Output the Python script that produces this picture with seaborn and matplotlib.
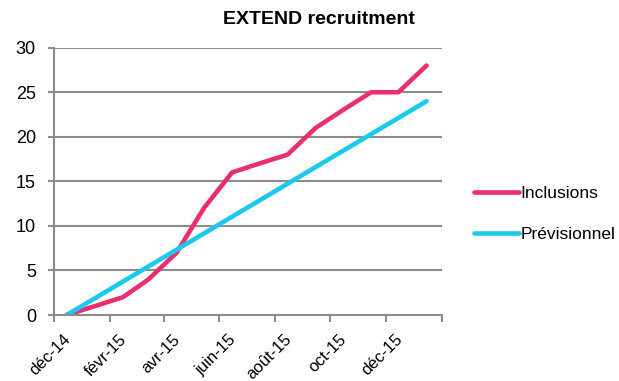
import pandas as pd
import matplotlib
matplotlib.use('Agg')
import matplotlib.pyplot as plt
import matplotlib.transforms as mtransforms
import seaborn as sns

# --- Data ---
incl_dates = ['2014-12-15', '2015-01-15', '2015-02-15', '2015-03-15', '2015-04-15',
              '2015-05-15', '2015-06-15', '2015-07-15', '2015-08-15', '2015-09-15',
              '2015-10-15', '2015-11-15', '2015-12-15', '2016-01-15']
incl_values = [0, 1, 2, 4, 7, 12, 16, 17, 18, 21, 23, 25, 25, 28]

prev_dates = ['2014-12-15', '2016-01-15']
prev_values = [0, 24]

tick_dates = ['2014-12-01', '2015-02-01', '2015-04-01', '2015-06-01',
              '2015-08-01', '2015-10-01', '2015-12-01', '2016-02-01']
tick_labels = ['déc-14', 'févr-15', 'avr-15', 'juin-15', 'août-15', 'oct-15', 'déc-15', '']

series_names = ['Inclusions', 'Prévisionnel']
series_colors = ['#E8306E', '#1CC8EC']

df = pd.concat([
    pd.DataFrame({'date': pd.to_datetime(incl_dates), 'value': incl_values, 'serie': series_names[0]}),
    pd.DataFrame({'date': pd.to_datetime(prev_dates), 'value': prev_values, 'serie': series_names[1]}),
])

sns.set_theme(style="white")
plt.rcParams['font.family'] = ['Liberation Sans', 'DejaVu Sans']
plt.rcParams['text.color'] = 'black'
plt.rcParams['xtick.color'] = 'black'
plt.rcParams['ytick.color'] = 'black'

fig = plt.figure(figsize=(6.19, 3.81), dpi=100)
ax = fig.add_axes([54 / 619, 1 - 315 / 381, (442 - 54) / 619, (315 - 47.7) / 381])

sns.lineplot(data=df, x='date', y='value', hue='serie', palette=dict(zip(series_names, series_colors)),
             linewidth=3.3, ax=ax, legend=False)

ax.set_xlim(pd.Timestamp(tick_dates[0]), pd.Timestamp(tick_dates[-1]))
ax.set_ylim(0, 30)
ax.set_yticks(range(0, 31, 5))
ax.set_xticks(pd.to_datetime(tick_dates))
ax.set_xticklabels([])
ax.tick_params(axis='y', labelsize=13, length=4, width=1.5, color='#8C8C8C', left=True, pad=9)
ax.tick_params(axis='x', length=5, width=1.5, color='#8C8C8C', bottom=True)

# rotated date labels, shifted like Excel places them
offset = mtransforms.ScaledTranslation(14 / 100, -22 / 100, fig.dpi_scale_trans)
for d, lab in zip(pd.to_datetime(tick_dates), tick_labels):
    ax.text(d, 0, lab, transform=ax.get_xaxis_transform() + offset, rotation=45,
            rotation_mode='anchor', ha='right', va='center', fontsize=12)

ax.grid(axis='y', color='#8C8C8C', linewidth=1.5)
ax.set_axisbelow(True)
for side in ['top', 'right']:
    ax.spines[side].set_visible(False)
for side in ['left', 'bottom']:
    ax.spines[side].set_color('#8C8C8C')
    ax.spines[side].set_linewidth(1.5)
ax.set_xlabel('')
ax.set_ylabel('')

fig.text(319 / 619, 1 - 19 / 381, 'EXTEND recruitment', ha='center', va='center',
         fontsize=14, fontweight='bold')

handles = [plt.Line2D([], [], color=c, linewidth=3.3) for c in series_colors]
fig.legend(handles, series_names, loc='center left', bbox_to_anchor=(458 / 619, 1 - 214 / 381),
           frameon=False, fontsize=12.5, handlelength=2.6, handletextpad=0.1, labelspacing=1.45)

plt.savefig('out.png', dpi=100)
plt.close()
